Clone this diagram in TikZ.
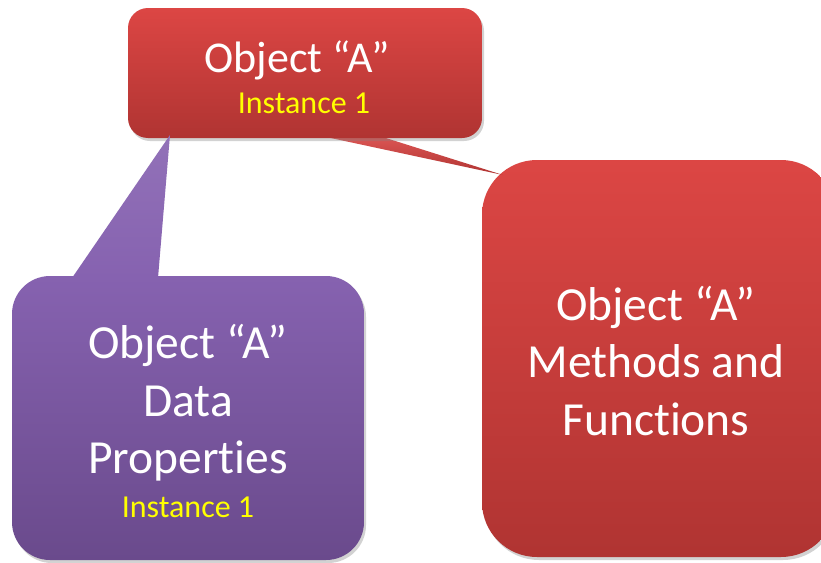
\documentclass[tikz,border=0pt]{standalone}
\usepackage{fontspec}
\setmainfont{Carlito}[RawFeature={-liga;-clig;-dlig}]
\usetikzlibrary{shadows}
\definecolor{redtop}{HTML}{DC4644}
\definecolor{redbot}{HTML}{B03432}
\definecolor{purtop}{HTML}{8662B0}
\definecolor{purbot}{HTML}{6A4A8C}
\definecolor{instyellow}{HTML}{FFFF00}
\tikzset{
  bubble/.style={rectangle, draw=none, inner sep=0pt,
    drop shadow={opacity=0.35, shadow xshift=2pt, shadow yshift=-3pt}},
  redbubble/.style={bubble, top color=redtop, bottom color=redbot},
  purbubble/.style={bubble, top color=purtop, bottom color=purbot},
  bigtext/.style={text=white, anchor=base, inner sep=0pt, font=\fontsize{47.5}{57}\selectfont},
  titletext/.style={text=white, anchor=base, inner sep=0pt, font=\fontsize{44}{53}\selectfont},
  insttext/.style={text=instyellow, anchor=base, inner sep=0pt, font=\fontsize{32}{38}\selectfont},
}
\begin{document}
\begin{tikzpicture}[x=1pt,y=-1pt]
\useasboundingbox (0,0) rectangle (821,562);
\clip (0,0) rectangle (821,562);
\fill[white] (0,0) rectangle (821,562);

% right box (methods)
\node[redbubble, rounded corners=55pt, minimum width=354pt, minimum height=397pt]
  (methods) at (659,358.5) {};
% tail from top box to right box
\coordinate (tipR) at (503,175);
\shade[top color=redtop!90!white, bottom color=redbot]
  (326,137) -- (370,133) -- (tipR) -- cycle;
% top box
\node[redbubble, rounded corners=20pt, minimum width=354pt, minimum height=130pt]
  (objA) at (305,73) {};
% purple tail
\coordinate (tipP) at (170,135);
\shade[top color=purtop!90!white, bottom color=purtop]
  (72,278) -- (tipP) -- (158,278) -- cycle;
% purple box
\node[purbubble, rounded corners=38pt, minimum width=352pt, minimum height=284pt]
  (data) at (188,418) {};

% texts top box
\node[titletext] (t1) at (297,72) {Object “A”};
\node[insttext] (t2) at (304,113) {Instance 1};
% texts purple box
\node[bigtext] (p1) at (188,358) {Object “A”};
\node[bigtext] (p2) at (188,416) {Data};
\node[bigtext] (p3) at (188,473) {Properties};
\node[insttext] (p4) at (188,517) {Instance 1};
% texts right box
\node[bigtext] (m1) at (656,320) {Object “A”};
\node[bigtext] (m2) at (656,377) {Methods and};
\node[bigtext] (m3) at (656,435) {Functions};
\end{tikzpicture}
\end{document}
